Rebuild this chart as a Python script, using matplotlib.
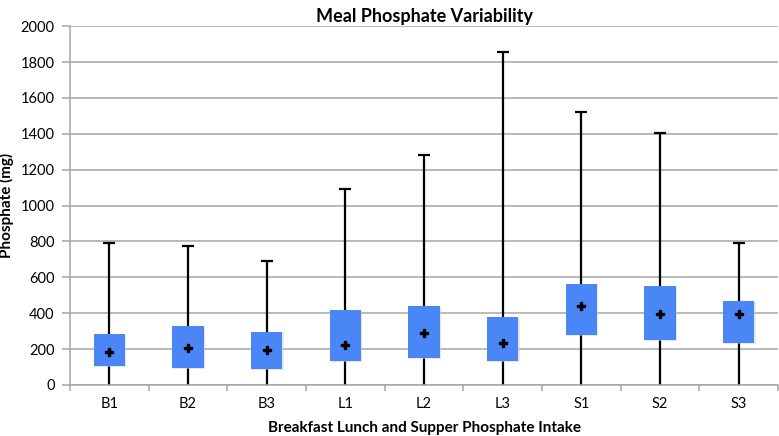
import matplotlib
matplotlib.use("Agg")
import matplotlib.pyplot as plt
import numpy as np

# values (mg)
categories = ["B1", "B2", "B3", "L1", "L2", "L3", "S1", "S2", "S3"]
whisker_max = [790, 775, 690, 1095, 1280, 1855, 1520, 1405, 790]
whisker_min = [0, 0, 0, 0, 0, 0, 0, 0, 0]
box_top = [286, 330, 293, 416, 442, 377, 561, 550, 470]
box_bottom = [106, 96, 87, 134, 152, 132, 279, 252, 232]
centre = [186, 204, 195, 223, 288, 232, 442, 396, 396]

plt.rcParams['font.family'] = ['Lato', 'DejaVu Sans']

fig = plt.figure(figsize=(7.79, 4.36), dpi=100)
ax = fig.add_axes([0.0899, 0.117, 0.9088, 0.823])

x = np.arange(len(categories))
grey = "#a6a6a6"

# whiskers (behind the boxes)
ax.vlines(x, whisker_min, whisker_max, color="black", lw=1.6, zorder=2)
ax.hlines(whisker_max, x - 0.075, x + 0.075, color="black", lw=1.6, zorder=2)

# boxes with a soft shadow
heights = np.array(box_top) - np.array(box_bottom)
ax.bar(x + 0.015, heights, width=0.4, bottom=np.array(box_bottom) - 6,
       color="#d0d0d0", alpha=0.5, zorder=3)
ax.bar(x, heights, width=0.4, bottom=box_bottom, color="#4a86f5", zorder=4)

# centre markers
ax.plot(x, centre, linestyle="none", marker="P", markersize=5.5,
        color="black", zorder=5)

ax.set_xlim(-0.5, len(categories) - 0.5)
ax.set_ylim(0, 2000)
ax.set_yticks(np.arange(0, 2001, 200))
ax.yaxis.grid(True, color=grey, lw=1.1)
ax.set_axisbelow(True)

ax.set_xticks(x)
ax.set_xticklabels(categories, fontsize=10.5)
ax.set_xticks(np.arange(-0.5, len(categories), 1.0), minor=True)
ax.tick_params(axis="x", which="major", length=0, pad=9)
ax.tick_params(axis="x", which="minor", length=4, color=grey, width=1.1)
ax.tick_params(axis="y", length=6, color=grey, width=1.1, labelsize=10.5, pad=5)

for s in ["top", "right"]:
    ax.spines[s].set_visible(False)
for s in ["left", "bottom"]:
    ax.spines[s].set_color(grey)
    ax.spines[s].set_linewidth(1.1)

ax.set_title("Meal Phosphate Variability", fontsize=13, fontweight="bold", pad=3)
ax.set_xlabel("Breakfast Lunch and Supper Phosphate Intake", fontsize=11,
              fontweight="bold", labelpad=7)
ax.set_ylabel("Phosphate (mg)", fontsize=11, fontweight="bold", labelpad=5)

fig.savefig("out.png", dpi=100)
